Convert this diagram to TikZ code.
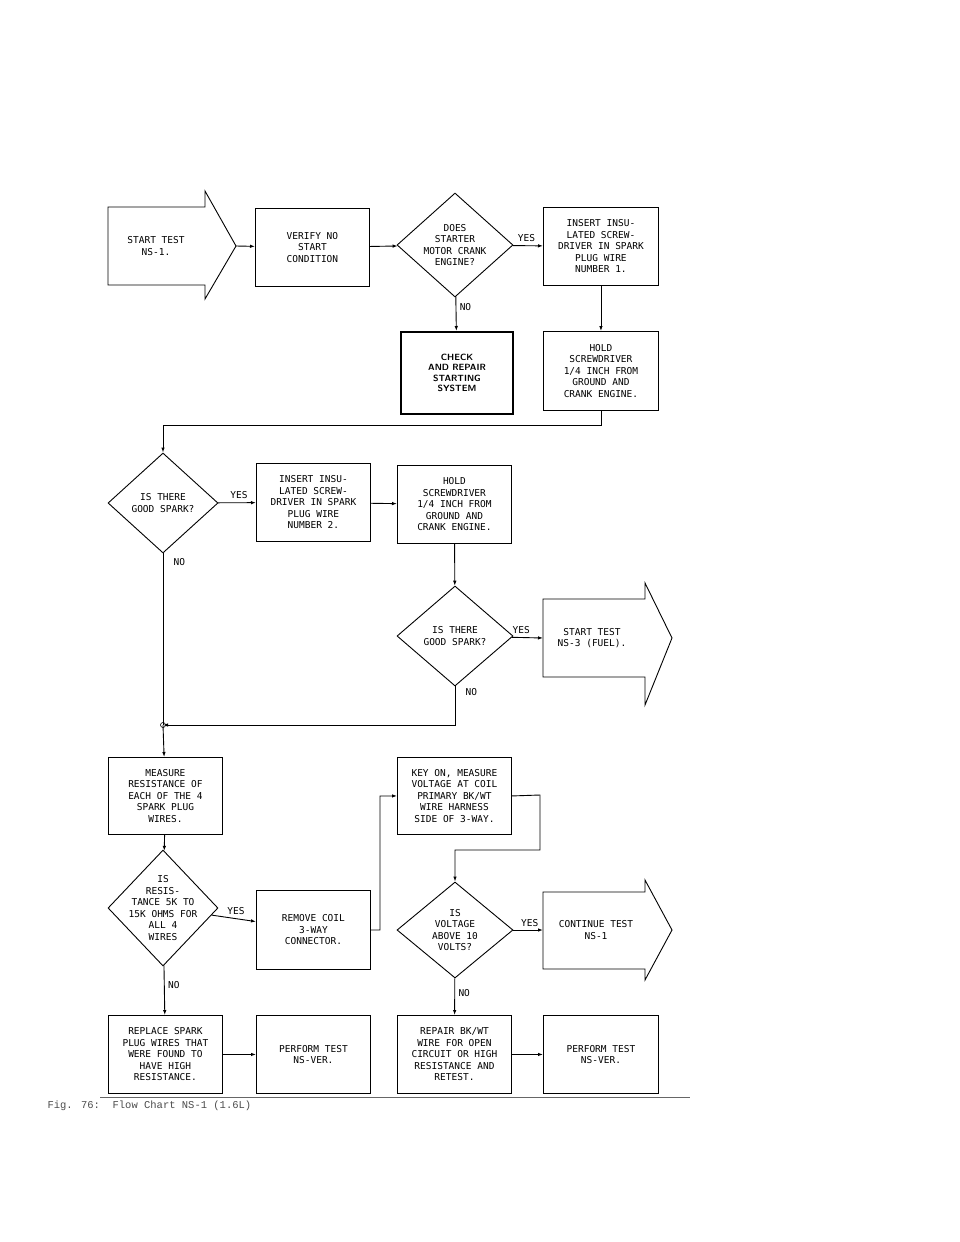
\documentclass[tikz,border=0pt]{standalone}
\usepackage{fontspec}
\setmonofont{DejaVu Sans Mono}
\newfontfamily\capfont{Liberation Mono}
\usetikzlibrary{shapes.geometric,arrows.meta}

\begin{document}
\begin{tikzpicture}[x=1pt,y=-1pt,
  every node/.style={font=\ttfamily\fontsize{9.5}{11.5}\selectfont,align=center},
  box/.style={draw,line width=0.9pt,minimum width=114,minimum height=78,inner sep=2pt,anchor=north west},
  dia/.style={draw,line width=0.9pt,shape=diamond,minimum width=116,minimum height=104,inner sep=0pt},
  con/.style={line width=0.9pt,-{Latex[length=5pt,width=3.5pt]}},
  lab/.style={font=\ttfamily\fontsize{9.5}{11}\selectfont}]
\useasboundingbox (0,0) rectangle (960,1242);

%Row 1
\draw [line width=0.9pt] (108,207) -- (205,207) -- (205,191) -- (236,246) -- (205,299) -- (205,285) -- (108,285) -- cycle ;
\node at (156,246) {START TEST\\NS-1.};
\coordinate (st) at (236,246);
\node [box] (verify) at (255,208) {VERIFY NO\\START\\CONDITION};
\node [dia,label=center:{DOES\\STARTER\\MOTOR CRANK\\ENGINE?}] (d1) at (455,245) {};
\node [box,minimum width=115] (ins1) at (543,207) {INSERT INSU-\\LATED SCREW-\\DRIVER IN SPARK\\PLUG WIRE\\NUMBER 1.};
\node [box,line width=2pt,minimum width=112,minimum height=82,font=\sffamily\bfseries\fontsize{9}{10.5}\selectfont] (chk) at (400,331) {CHECK\\AND REPAIR\\STARTING\\SYSTEM};
\node [box,minimum width=115,minimum height=79] (hold1) at (543,331) {HOLD\\SCREWDRIVER\\1/4 INCH FROM\\GROUND AND\\CRANK ENGINE.};

\draw [con] (st) -- (verify);
\draw [con] (verify) -- (d1);
\draw [con] (d1) -- (ins1) node [lab,pos=0.45,above] {YES};
\draw [con] (d1) -- (chk) node [lab,pos=0.3,right] {NO};
\draw [con] (ins1) -- (hold1);

%Row 2
\node [dia,minimum width=110,minimum height=100,label=center:{IS THERE\\GOOD SPARK?}] (d2) at (163,503) {};
\node [box] (ins2) at (256,463) {INSERT INSU-\\LATED SCREW-\\DRIVER IN SPARK\\PLUG WIRE\\NUMBER 2.};
\node [box] (hold2) at (397,465) {HOLD\\SCREWDRIVER\\1/4 INCH FROM\\GROUND AND\\CRANK ENGINE.};
\draw [con] (hold1.south) |- (163,425) -- (d2.north);
\draw [con] (d2) -- (ins2) node [lab,pos=0.55,above] {YES};
\draw [con] (ins2) -- (hold2);

%Row 3
\node [dia,minimum height=100,label=center:{IS THERE\\GOOD SPARK?}] (d3) at (455,636) {};
\draw [line width=0.9pt] (543,599) -- (645,599) -- (645,583) -- (672,638) -- (645,705) -- (645,677) -- (543,677) -- cycle ;
\node at (592,638) {START TEST\\NS-3 (FUEL).};
\coordinate (ns3) at (543,638);
\coordinate (jn) at (163,725);
\draw [con] (hold2) -- (d3);
\draw [con] (d3) -- (ns3) node [lab,pos=0.3,above] {YES};
\draw [con] (d3.south) |- (jn);
\draw [line width=0.9pt] (d2.south) -- (jn);
\node [lab,anchor=west] at (170,562) {NO};
\node [lab,anchor=west] at (462,692) {NO};
\draw [line width=0.6pt] (jn) circle (2.5);

%Row 4
\node [box,minimum height=77] (meas) at (108,757) {MEASURE\\RESISTANCE OF\\EACH OF THE 4\\SPARK PLUG\\WIRES.};
\node [box,minimum height=77] (key) at (397,757) {KEY ON, MEASURE\\VOLTAGE AT COIL\\PRIMARY BK/WT\\WIRE HARNESS\\SIDE OF 3-WAY.};
\node [dia,minimum width=110,minimum height=116,label=center:{IS\\RESIS-\\TANCE 5K TO\\15K OHMS FOR\\ALL 4\\WIRES}] (d4) at (163,908) {};
\node [box,minimum height=79] (rem) at (256,890) {REMOVE COIL\\3-WAY\\CONNECTOR.};
\node [dia,minimum height=96,label=center:{IS\\VOLTAGE\\ABOVE 10\\VOLTS?}] (d5) at (455,930) {};
\draw [line width=0.9pt] (543,892) -- (645,892) -- (645,880) -- (672,930) -- (645,980) -- (645,969) -- (543,969) -- cycle ;
\node at (596,930) {CONTINUE TEST\\NS-1};
\coordinate (cont) at (543,930);
\draw [con] (jn) -- (meas);
\draw [con] (meas) -- (d4);
\draw [con] (d4) -- (rem) node [lab,pos=0.55,above] {YES};
\draw [con] (rem.east) -- (380,930) |- (key.west);
\draw [con] (key.east) -- (540,795) |- (455,850) -- (d5.north);
\draw [con] (d5) -- (cont) node [lab,pos=0.55,above] {YES};

%Row 5
\node [box] (repl) at (108,1015) {REPLACE SPARK\\PLUG WIRES THAT\\WERE FOUND TO\\HAVE HIGH\\RESISTANCE.};
\node [box] (perf1) at (256,1015) {PERFORM TEST\\NS-VER.};
\node [box] (repr) at (397,1015) {REPAIR BK/WT\\WIRE FOR OPEN\\CIRCUIT OR HIGH\\RESISTANCE AND\\RETEST.};
\node [box,minimum width=115] (perf2) at (543,1015) {PERFORM TEST\\NS-VER.};
\draw [con] (d4) -- (repl) node [lab,pos=0.4,right] {NO};
\draw [con] (d5) -- (repr) node [lab,pos=0.4,right] {NO};
\draw [con] (repl) -- (perf1);
\draw [con] (repr) -- (perf2);

%Caption
\draw [line width=0.6pt,black!60] (100,1097) -- (690,1097);
\node [anchor=west,font=\capfont\fontsize{10.5}{12}\selectfont,text=black!70] (cap) at (44,1106) {Fig. 76:\ \ Flow Chart NS-1 (1.6L)};
\end{tikzpicture}
\end{document}
